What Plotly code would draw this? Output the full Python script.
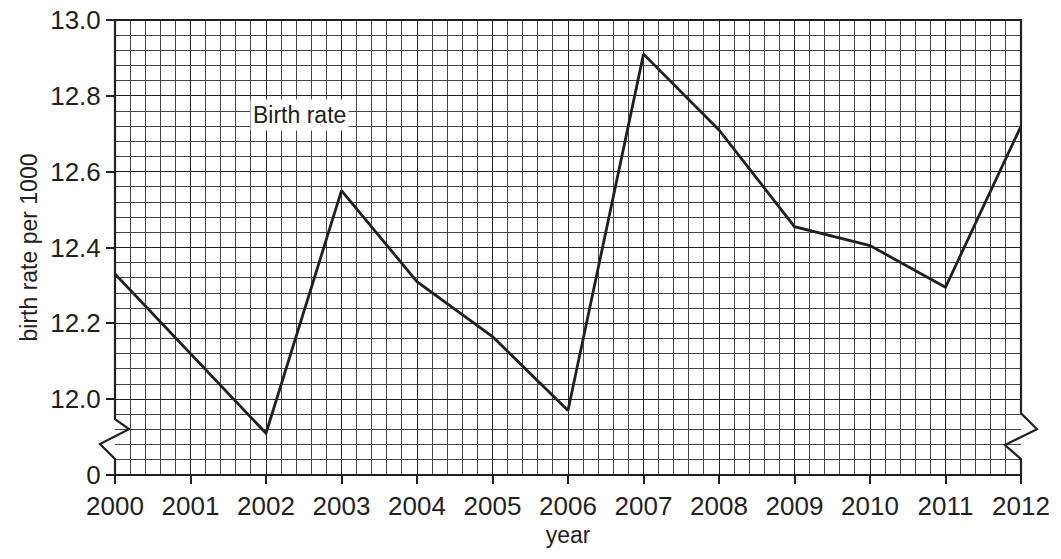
import plotly.graph_objects as go

years = list(range(2000, 2013))
birth_rate = [12.33, 12.12, 11.91, 12.55, 12.31, 12.165, 11.97, 12.91, 12.71, 12.455, 12.405, 12.295, 12.72]
y_tickvals = [11.8, 12.0, 12.2, 12.4, 12.6, 12.8, 13.0]
y_ticktext = ["0", "12.0", "12.2", "12.4", "12.6", "12.8", "13.0"]

fig = go.Figure(go.Scatter(x=years, y=birth_rate, mode="lines",
                           line=dict(color="#231f20", width=2.8), showlegend=False))

# border with axis-break zigzags on both sides
border = ("M 0,1 L 0,0.1225 L 0.0155,0.1008 L -0.0166,0.0683 L 0,0.035 L 0,0 "
          "L 1,0 L 1,0.035 L 0.9823,0.0658 L 1.0177,0.1008 L 1,0.1358 L 1,1 Z")
fig.add_shape(type="path", path=border, xref="paper", yref="paper",
              line=dict(color="#231f20", width=2.2))

fig.add_annotation(x=2002.45, y=12.75, text="Birth rate", showarrow=False,
                   bgcolor="white", font=dict(size=23, color="#231f20"), borderpad=2)

fig.update_layout(
    width=1053, height=551,
    margin=dict(l=107, r=40, t=12, b=84),
    plot_bgcolor="white", paper_bgcolor="white",
    font=dict(family="Liberation Sans, Arial, sans-serif", size=26, color="#231f20"),
    xaxis=dict(range=[2000, 2012], dtick=1, tick0=2000, showline=False, zeroline=False,
               automargin=False, tickfont=dict(size=26), ticklabeloverflow="allow",
               showgrid=True, gridcolor="#231f20", gridwidth=1.3,
               ticks="outside", ticklen=8, tickwidth=2, tickcolor="#231f20",
               minor=dict(dtick=0.2, tick0=2000, showgrid=True, gridcolor="#444", gridwidth=0.9),
               title=dict(text="year", font=dict(size=23), standoff=6)),
    yaxis=dict(range=[11.8, 13.0], tickvals=y_tickvals, ticktext=y_ticktext,
               showline=False, zeroline=False, automargin=False, tickfont=dict(size=26),
               ticklabeloverflow="allow",
               showgrid=True, gridcolor="#231f20", gridwidth=1.3,
               ticks="outside", ticklen=8, tickwidth=2, tickcolor="#231f20",
               minor=dict(dtick=0.04, tick0=11.8, showgrid=True, gridcolor="#444", gridwidth=0.9),
               title=dict(text="birth rate per 1000", font=dict(size=23), standoff=6)),
)

fig.write_html("out.html")
